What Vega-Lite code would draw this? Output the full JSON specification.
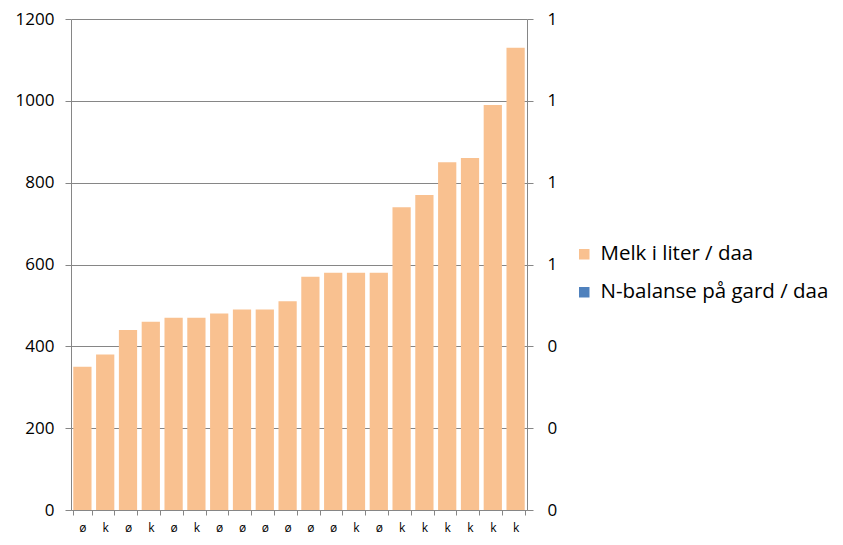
{
  "$schema": "https://vega.github.io/schema/vega-lite/v6.json",
  "width": 456,
  "height": 491,
  "autosize": "none",
  "padding": {"left": 71, "top": 19, "right": 316, "bottom": 35},
  "background": "white",
  "config": {
    "font": "Open Sans",
    "view": {"stroke": null},
    "axis": {
      "domainColor": "#868686",
      "tickColor": "#868686",
      "gridColor": "#868686",
      "labelColor": "#000000",
      "labelFont": "Open Sans",
      "domainWidth": 1,
      "tickWidth": 1,
      "gridWidth": 1,
      "title": null
    }
  },
  "data": {
    "values": [
      {"gard": "01 ø", "serie": "Melk i liter / daa", "verdi": 350},
      {"gard": "02 k", "serie": "Melk i liter / daa", "verdi": 380},
      {"gard": "03 ø", "serie": "Melk i liter / daa", "verdi": 440},
      {"gard": "04 k", "serie": "Melk i liter / daa", "verdi": 460},
      {"gard": "05 ø", "serie": "Melk i liter / daa", "verdi": 470},
      {"gard": "06 k", "serie": "Melk i liter / daa", "verdi": 470},
      {"gard": "07 ø", "serie": "Melk i liter / daa", "verdi": 480},
      {"gard": "08 ø", "serie": "Melk i liter / daa", "verdi": 490},
      {"gard": "09 ø", "serie": "Melk i liter / daa", "verdi": 490},
      {"gard": "10 ø", "serie": "Melk i liter / daa", "verdi": 510},
      {"gard": "11 ø", "serie": "Melk i liter / daa", "verdi": 570},
      {"gard": "12 ø", "serie": "Melk i liter / daa", "verdi": 580},
      {"gard": "13 k", "serie": "Melk i liter / daa", "verdi": 580},
      {"gard": "14 ø", "serie": "Melk i liter / daa", "verdi": 580},
      {"gard": "15 k", "serie": "Melk i liter / daa", "verdi": 740},
      {"gard": "16 k", "serie": "Melk i liter / daa", "verdi": 770},
      {"gard": "17 k", "serie": "Melk i liter / daa", "verdi": 850},
      {"gard": "18 k", "serie": "Melk i liter / daa", "verdi": 860},
      {"gard": "19 k", "serie": "Melk i liter / daa", "verdi": 990},
      {"gard": "20 k", "serie": "Melk i liter / daa", "verdi": 1130},
      {"gard": "01 ø", "serie": "N-balanse på gard / daa", "verdi": null},
      {"gard": "20 k", "serie": "N-balanse på gard / daa", "verdi": null}
    ]
  },
  "encoding": {
    "x": {
      "field": "gard",
      "type": "nominal",
      "scale": {"paddingInner": 0.2, "paddingOuter": 0.1},
      "axis": {
        "orient": "bottom",
        "labelAngle": 0,
        "labelExpr": "split(datum.value, ' ')[1]",
        "labelFontSize": 12,
        "labelPadding": 7,
        "tickBand": "extent",
        "tickSize": 5,
        "grid": false,
        "domain": true
      }
    },
    "color": {
      "field": "serie",
      "type": "nominal",
      "scale": {
        "domain": ["Melk i liter / daa", "N-balanse på gard / daa"],
        "range": ["#F9C190", "#4F81BD"]
      },
      "legend": {
        "title": null,
        "orient": "none",
        "legendX": 503,
        "legendY": 225,
        "symbolType": "square",
        "symbolSize": 110,
        "symbolStrokeWidth": 0,
        "labelFontSize": 20.5,
        "labelFont": "Open Sans",
        "labelColor": "#000000",
        "labelLimit": 400,
        "rowPadding": 17,
        "labelOffset": 6
      }
    }
  },
  "layer": [
    {
      "transform": [{"filter": "datum.serie === 'Melk i liter / daa'"}],
      "mark": {"type": "bar"},
      "encoding": {
        "y": {
          "field": "verdi",
          "type": "quantitative",
          "scale": {"domain": [0, 1200], "nice": false},
          "axis": {
            "orient": "left",
            "values": [0, 200, 400, 600, 800, 1000, 1200],
            "labelExpr": "format(datum.value, 'd')",
            "grid": true,
            "domain": true,
            "tickSize": 6,
            "labelFontSize": 17,
            "labelPadding": 11
          }
        }
      }
    },
    {
      "transform": [{"filter": "datum.serie === 'N-balanse på gard / daa'"}],
      "mark": {"type": "bar"},
      "encoding": {
        "y": {
          "field": "verdi",
          "type": "quantitative",
          "scale": {"domain": [0, 1.2], "nice": false},
          "axis": {
            "orient": "right",
            "values": [0, 0.2, 0.4, 0.6, 0.8, 1, 1.2],
            "labelExpr": "format(datum.value, '.0f')",
            "grid": false,
            "domain": true,
            "tickSize": 6,
            "labelFontSize": 17,
            "labelPadding": 14
          }
        }
      }
    }
  ],
  "resolve": {"scale": {"y": "independent"}}
}
